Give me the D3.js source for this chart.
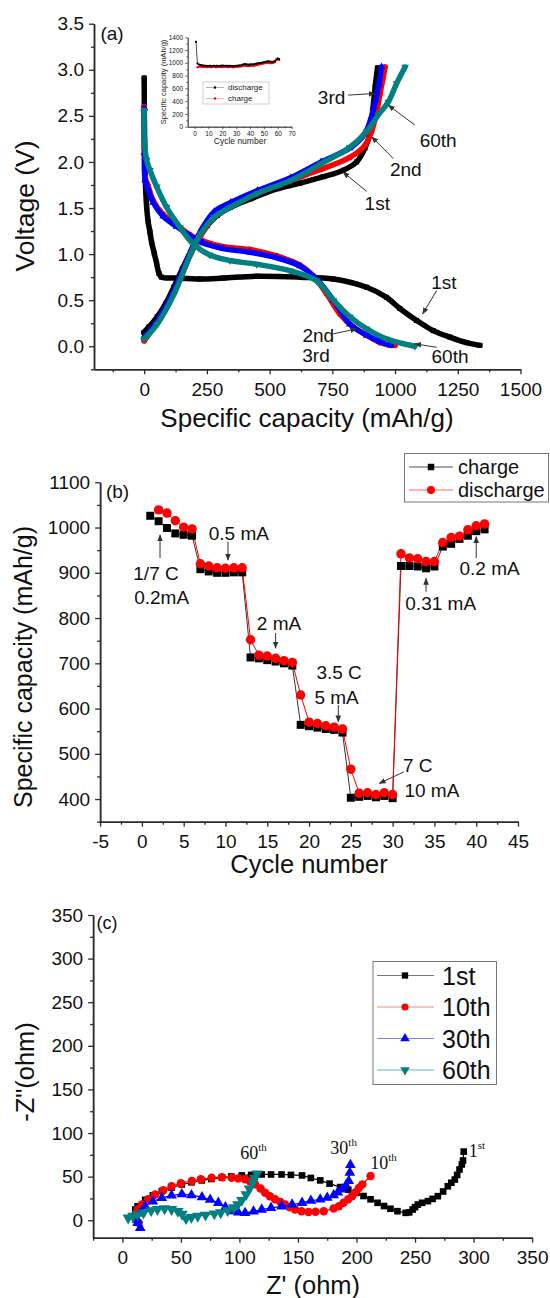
<!DOCTYPE html>
<html>
<head>
<meta charset="utf-8">
<script src="https://cdn.jsdelivr.net/npm/d3@7"></script>
<style>
  body { margin: 0; background: #fff; }
  svg { display: block; }
</style>
</head>
<body>
<div id="chart"></div>
<script>
// --------------------------------------
//  Data
// --------------------------------------

// (a) voltage profiles, [capacity (mAh/g), voltage (V)]
const dis1st = [[0,2.91],[1,2.40],[4,1.85],[9.6,1.52],[16,1.35],[23,1.24],[29.5,1.13],[40,1.01],[49.5,0.90],[59,0.79],[69,0.75],[129,0.74],[222,0.73],[315,0.74],[448,0.76],[621,0.75],[754,0.73],[887,0.64],[966,0.53],[1019,0.41],[1086,0.28],[1152,0.17],[1218,0.10],[1285,0.04],[1338,0.01]];
const dis2nd = [[0,2.60],[1,2.16],[2,1.91],[5,1.82],[16,1.74],[36,1.58],[76,1.43],[129,1.32],[182,1.21],[235,1.14],[315,1.08],[421,1.05],[528,0.98],[621,0.88],[674,0.76],[727,0.57],[780,0.35],[833,0.21],[887,0.12],[940,0.04],[1000,0.01]];
const dis3rd = [[0,2.58],[1,2.10],[4,1.80],[16,1.70],[36,1.56],[76,1.41],[129,1.30],[182,1.20],[235,1.12],[315,1.06],[421,1.02],[528,0.96],[621,0.87],[687,0.73],[754,0.50],[820,0.24],[887,0.12],[940,0.05],[983,0.01]];
const dis60th = [[0,2.56],[1,2.22],[10,2.02],[23,1.91],[50,1.73],[89,1.51],[143,1.29],[196,1.11],[262,0.99],[342,0.93],[448,0.89],[581,0.82],[687,0.71],[754,0.50],[820,0.32],[887,0.19],[966,0.08],[1079,0.0]];
const chg1st = [[-1,0.15],[19,0.21],[52,0.32],[85,0.46],[118,0.64],[152,0.84],[185,1.02],[219,1.18],[252,1.31],[292,1.42],[345,1.51],[425,1.60],[532,1.71],[621,1.77],[714,1.84],[794,1.91],[847,2.00],[880,2.15],[900,2.31],[911,2.56],[921,2.82],[930,3.02]];
const chg2nd = [[0,0.06],[52,0.26],[118,0.58],[185,1.0],[225,1.20],[279,1.40],[345,1.53],[452,1.66],[585,1.80],[705,1.92],[820,2.05],[880,2.18],[906,2.33],[926,2.53],[940,2.74],[953,2.92],[960,3.03]];
const chg3rd = [[0,0.10],[52,0.27],[118,0.60],[185,1.03],[225,1.25],[279,1.46],[345,1.56],[452,1.69],[585,1.83],[705,2.00],[820,2.15],[880,2.31],[906,2.49],[923,2.67],[936,2.85],[946,3.03]];
const chg60th = [[0,0.08],[52,0.24],[118,0.56],[185,1.0],[225,1.22],[279,1.40],[345,1.51],[452,1.66],[585,1.80],[705,1.98],[820,2.16],[887,2.33],[933,2.51],[973,2.65],[1006,2.85],[1040,3.03]];

// (a) inset, capacity per cycle (discharge from cycle 1, charge from cycle 2)
const insetDischarge = [1330,990,975,968,962,958,955,955,952,950,
  955,950,952,955,950,955,952,950,955,958,
  955,952,955,950,955,952,950,948,952,955,
  955,958,960,965,975,980,978,975,972,975,
  978,975,980,985,990,995,998,1000,1005,1010,
  1015,1020,1025,1022,1018,1015,1020,1030,1055,1070,1060];
const insetCharge = [930,935,940,938,935,932,935,930,935,932,
  930,935,938,932,930,935,932,935,930,935,
  938,935,930,932,935,930,928,932,935,938,
  940,942,945,950,955,952,950,948,950,955,
  952,955,960,965,970,975,980,985,990,995,
  1000,998,995,992,995,1000,1010,1040,1050,1045];

// (b) rate capability
const rateCycles = [1,2,3,4,5,6,7,8,9,10,11,12,13,14,15,16,17,18,19,20,21,22,23,24,25,26,27,28,29,30,31,32,33,34,35,36,37,38,39,40,41];
const rateCharge = [1026,1014,999,987,984,982,908,903,900,900,901,901,713,711,707,704,700,695,564,561,558,555,553,547,403,405,407,404,407,402,915,915,914,910,914,958,964,975,982,992,996];
const rateDischarge = [null,1039,1032,1015,1001,997,920,915,911,910,911,911,752,718,716,711,706,702,630,570,567,562,559,555,466,413,414,410,414,410,942,933,931,925,925,967,978,981,995,1004,1008];

// (c) Nyquist plots, [Z' (ohm), -Z'' (ohm)]
const eis1st = [[11,12.3],[13,16],[19.5,23.4],[26,28.5],[33.7,33.4],[42,37.5],[50.8,41],[59,43.5],[67.9,45.7],[76,47.3],[85,48.8],[93,50.2],[102,51.4],[110,52],[119,52.5],[127,52.5],[136,52.5],[144,52],[153.5,51.4],[161,48.5],[169,45.7],[177,42],[186,38],[193,35],[200,31.5],[206,27.8],[212,24],[218,20],[223.5,16.3],[229,13.2],[235,10.4],[242,8.5],[245,9],[248,12.3],[250,15],[252.4,18],[256,20],[261,21.9],[265,24.5],[269.5,27.6],[274,33],[278,39],[281,43],[284,46.7],[286,52],[288,58.2],[290,64],[291,68.5],[291.6,78.7]];
const eis10th = [[14,-3],[11,6.6],[13,12],[16.6,18],[22,24],[28,29.6],[35,34.5],[42,39],[50,42.5],[59.3,45],[67,47],[76.3,48.8],[85,49.2],[93.4,48.8],[99,48],[104.8,47],[109,44.5],[113.3,41.2],[118,36.5],[121.9,31.6],[126,27.5],[130.4,24],[135,21],[139,18],[143,15],[147.5,12.3],[153,10.4],[159,9.5],[165,9.8],[172,10.4],[180.5,13.4],[185,16],[189,20],[193,24],[196.2,27.6],[199,32],[202,37],[205,41],[212,50.7]];
const eis30th = [[15.3,-8.8],[13,-3],[12.5,0.8],[15,8],[19.5,16],[26,21.5],[33.7,25.7],[42,28.5],[50.8,30],[59,28.8],[68,26.5],[75,23.5],[82,20],[88,15],[93.4,10.4],[99,9],[104.8,8.5],[112,10.2],[119,12.3],[127,14.2],[136,16],[145,18],[153.5,20],[161,22.5],[169,23.8],[175,26],[180.5,28.8],[184,32],[187.6,35.3],[191,40],[193.4,45],[194.3,54.5],[194.8,63.4]];
const eis60th = [[5,2.7],[9,4.8],[13.2,6.6],[18,8.5],[24.6,11.2],[30,12.5],[36,13.4],[42,12.5],[47.4,10.4],[51,7],[54.4,2],[59,3.5],[64.4,4.7],[71,6],[78.6,7.4],[84,8.8],[90,11.2],[95,14.5],[98.6,18],[102,23],[105.7,29.6],[108.5,36],[111.4,43],[113,48],[115,53.4]];

// annotation texts, in data units
const notesA = [
  {t: "3rd", x: 747, y: 2.70}, {t: "60th", x: 1172, y: 2.236}, {t: "2nd", x: 1043, y: 1.917},
  {t: "1st", x: 929, y: 1.548}, {t: "1st", x: 1195, y: 0.696}, {t: "2nd", x: 694, y: 0.116},
  {t: "3rd", x: 685, y: -0.10}, {t: "60th", x: 1219, y: -0.112}
];
const arrowsA = [[813,2.725,920,2.743],[1079,2.40,973,2.616],[993,2.037,907,2.272],[887,1.68,793,1.89],
  [1166,0.605,1110,0.352],[754,0.135,847,0.189],[1166,-0.011,1079,0.026]];
const notesB = [
  {t: "1/7 C", x: 1.69, y: 899.6}, {t: "0.2mA", x: 2.36, y: 846.5}, {t: "0.5 mA", x: 11.6, y: 988},
  {t: "2 mA", x: 16.4, y: 789}, {t: "3.5 C", x: 23.6, y: 681.3}, {t: "5 mA", x: 23.3, y: 626},
  {t: "7 C", x: 33.0, y: 475}, {t: "10 mA", x: 34.7, y: 420}, {t: "0.31 mA", x: 35.75, y: 832.5},
  {t: "0.2 mA", x: 41.6, y: 910}
];
const arrowsB = [[2.17,932.7,2.17,983.6],[10.3,968.7,10.3,928],[16.0,767,16.0,733.7],[23.5,607.7,23.5,570.8],
  [31.35,460,28.4,434.7],[34.0,858,34.0,887.8],[40.0,932.7,40.0,979.8]];
const notesC = [
  {t: "60", s: "th", x: 112, y: 77.5}, {t: "30", s: "th", x: 189, y: 83.3},
  {t: "10", s: "th", x: 223, y: 66}, {t: "1", s: "st", x: 302.8, y: 79.5}
];

// --------------------------------------
//  Canvas
// --------------------------------------

const width = 550, height = 1298;
const sans = "'Liberation Sans', Arial, sans-serif";
const serif = "'Liberation Serif', 'Times New Roman', serif";
const axisColor = "#2a2a2a";
const teal = "#008080";
const intFmt = v => String(v);   // plain hyphen minus, like the original

const svg = d3.select("#chart").append("svg")
  .attr("width", width).attr("height", height)
  .attr("viewBox", `0 0 ${width} ${height}`)
  .style("font-family", sans);

svg.append("rect").attr("width", width).attr("height", height).attr("fill", "#fff");

svg.append("defs").append("marker")
    .attr("id", "arrow")
    .attr("viewBox", "0 0 10 10")
    .attr("refX", 9).attr("refY", 5)
    .attr("markerWidth", 7).attr("markerHeight", 7)
    .attr("orient", "auto-start-reverse")
  .append("path")
    .attr("d", "M0,1 L10,5 L0,9 z")
    .attr("fill", "#333");

// helpers
function ticksBetween(a, b, step) {
  const out = [];
  for (let v = a; v <= b + 1e-9; v += step) out.push(+v.toFixed(6));
  return out;
}

function drawAxes(g, x, y, o) {
  const fs = o.fontSize || 19;
  const xa = g.append("g").attr("transform", `translate(0,${y.range()[0]})`);
  xa.call(d3.axisBottom(x).tickValues(o.xMinor).tickSize(o.minor || 3).tickSizeOuter(0).tickFormat(""));
  xa.append("g").call(d3.axisBottom(x).tickValues(o.xMajor).tickSize(o.major || 5).tickSizeOuter(0)
    .tickPadding(o.pad || 8).tickFormat(o.xFmt || intFmt));
  const ya = g.append("g").attr("transform", `translate(${x.range()[0]},0)`);
  ya.call(d3.axisLeft(y).tickValues(o.yMinor).tickSize(o.minor || 3).tickSizeOuter(0).tickFormat(""));
  ya.append("g").call(d3.axisLeft(y).tickValues(o.yMajor).tickSize(o.major || 5).tickSizeOuter(0)
    .tickPadding(o.padY || 5).tickFormat(o.yFmt || intFmt));
  g.selectAll(".domain").attr("stroke", axisColor).attr("stroke-width", o.lw || 1.5);
  g.selectAll(".tick line").attr("stroke", axisColor).attr("stroke-width", o.lw || 1.3);
  g.selectAll(".tick text").attr("font-family", sans).attr("font-size", fs).attr("fill", "#111");
}

function marks(g, data, x, y, shape, size, color) {
  const type = shape === "square" ? d3.symbolSquare : shape === "circle" ? d3.symbolCircle : d3.symbolTriangle;
  g.append("g").selectAll("path").data(data.filter(d => d[1] != null)).join("path")
    .attr("d", d3.symbol(type, size))
    .attr("transform", d => `translate(${x(d[0])},${y(d[1])})${shape === "down" ? " rotate(180)" : ""}`)
    .attr("fill", color);
}

function arrows(g, list, x, y) {
  g.append("g").selectAll("line").data(list).join("line")
    .attr("x1", d => x(d[0])).attr("y1", d => y(d[1]))
    .attr("x2", d => x(d[2])).attr("y2", d => y(d[3]))
    .attr("stroke", "#333").attr("stroke-width", 1)
    .attr("marker-end", "url(#arrow)");
}

function notes(g, list, x, y, size) {
  g.append("g").selectAll("text").data(list).join("text")
    .attr("x", d => x(d.x)).attr("y", d => y(d.y))
    .attr("dy", "0.36em")
    .attr("text-anchor", "middle")
    .attr("font-size", size)
    .attr("fill", "#111")
    .text(d => d.t);
}

// --------------------------------------
//  (a) Voltage profiles
// --------------------------------------

const xA = d3.scaleLinear().domain([-200, 1500]).range([94, 520.5]);
const yA = d3.scaleLinear().domain([-0.25, 3.5]).range([369.3, 23.7]);
const gA = svg.append("g");

drawAxes(gA, xA, yA, {
  xMajor: ticksBetween(0, 1500, 250), xMinor: ticksBetween(-125, 1375, 250),
  yMajor: ticksBetween(0, 3.5, 0.5), yMinor: ticksBetween(-0.25, 3.25, 0.5),
  yFmt: d3.format(".1f")
});

const lineA = d3.line().x(d => xA(d[0])).y(d => yA(d[1])).curve(d3.curveCatmullRom.alpha(0.5));
const profiles = [
  {d: dis1st, c: "#000", s: "square"}, {d: chg1st, c: "#000", s: "square"},
  {d: dis2nd, c: "#ff0000", s: "circle"}, {d: chg2nd, c: "#ff0000", s: "circle"},
  {d: dis3rd, c: "#0000ff", s: "up"}, {d: chg3rd, c: "#0000ff", s: "up"},
  {d: dis60th, c: teal, s: "down"}, {d: chg60th, c: teal, s: "down"}
];
profiles.forEach(p => {
  gA.append("path").datum(p.d)
    .attr("d", lineA).attr("fill", "none")
    .attr("stroke", p.c).attr("stroke-width", 5.5)
    .attr("stroke-linecap", "round");
  marks(gA, p.d, xA, yA, p.s, 26, p.c);
});

notes(gA, notesA, xA, yA, 19);
arrows(gA, arrowsA, xA, yA);

gA.append("text").attr("x", 112).attr("y", 40).attr("text-anchor", "middle")
  .attr("font-size", 19).attr("fill", "#111").text("(a)");
gA.append("text").attr("x", 307).attr("y", 427).attr("text-anchor", "middle")
  .attr("font-size", 26).attr("fill", "#111").text("Specific capacity (mAh/g)");
gA.append("text").attr("transform", "translate(34,206) rotate(-90)").attr("text-anchor", "middle")
  .attr("font-size", 26.5).attr("fill", "#111").text("Voltage (V)");

// inset
const xI = d3.scaleLinear().domain([-5, 70]).range([187.7, 291.6]);
const yI = d3.scaleLinear().domain([0, 1400]).range([126.7, 37.3]);
const gI = svg.append("g");
drawAxes(gI, xI, yI, {
  xMajor: ticksBetween(0, 70, 10), xMinor: ticksBetween(5, 65, 10),
  yMajor: ticksBetween(0, 1400, 200), yMinor: ticksBetween(100, 1300, 200),
  fontSize: 6.5, major: 2.5, minor: 1.5, pad: 2, padY: 2, lw: 0.7
});
const lineI = d3.line().x(d => xI(d[0])).y(d => yI(d[1]));
const insetD = insetDischarge.map((v, i) => [i + 1, v]);
const insetC = insetCharge.map((v, i) => [i + 2, v]);
gI.append("path").datum(insetD).attr("d", lineI).attr("fill", "none").attr("stroke", "#000").attr("stroke-width", 0.7);
gI.append("path").datum(insetC).attr("d", lineI).attr("fill", "none").attr("stroke", "#ff0000").attr("stroke-width", 0.7);
marks(gI, insetC, xI, yI, "circle", 4, "#ff0000");
marks(gI, insetD, xI, yI, "square", 3.5, "#000");

gI.append("text").attr("x", 240).attr("y", 144).attr("text-anchor", "middle")
  .attr("font-size", 8.5).attr("fill", "#222").text("Cycle number");
gI.append("text").attr("transform", "translate(166,82) rotate(-90)").attr("text-anchor", "middle")
  .attr("font-size", 7.5).attr("fill", "#222").text("Specific capacity (mAh/g)");

const legI = gI.append("g");
legI.append("rect").attr("x", 203).attr("y", 82).attr("width", 66).attr("height", 22)
  .attr("fill", "#fff").attr("stroke", "#bbb").attr("stroke-width", 0.7);
[{t: "discharge", c: "#000", s: "square", y: 87.5}, {t: "charge", c: "#ff0000", s: "circle", y: 98.5}].forEach(e => {
  legI.append("line").attr("x1", 206).attr("x2", 224).attr("y1", e.y).attr("y2", e.y)
    .attr("stroke", e.c).attr("stroke-width", 0.6).attr("opacity", 0.5);
  legI.append("path").attr("d", d3.symbol(e.s === "square" ? d3.symbolSquare : d3.symbolCircle, 5)())
    .attr("transform", `translate(215,${e.y})`).attr("fill", e.c);
  legI.append("text").attr("x", 228).attr("y", e.y).attr("dy", "0.35em")
    .attr("font-size", 8).attr("fill", "#222").text(e.t);
});

// --------------------------------------
//  (b) Rate capability
// --------------------------------------

const xB = d3.scaleLinear().domain([-5, 45]).range([100.1, 518]);
const yB = d3.scaleLinear().domain([350, 1100]).range([821.7, 482.3]);
const gB = svg.append("g");

drawAxes(gB, xB, yB, {
  xMajor: ticksBetween(-5, 45, 5), xMinor: ticksBetween(-2.5, 42.5, 5),
  yMajor: ticksBetween(400, 1100, 100), yMinor: ticksBetween(350, 1050, 100)
});

const chargeB = rateCycles.map((c, i) => [c, rateCharge[i]]);
const dischargeB = rateCycles.map((c, i) => [c, rateDischarge[i]]).filter(d => d[1] != null);
const lineB = d3.line().x(d => xB(d[0])).y(d => yB(d[1]));
gB.append("path").datum(chargeB).attr("d", lineB).attr("fill", "none").attr("stroke", "#333").attr("stroke-width", 1);
gB.append("path").datum(dischargeB).attr("d", lineB).attr("fill", "none").attr("stroke", "#ff0000").attr("stroke-width", 1);
marks(gB, chargeB, xB, yB, "square", 64, "#000");
marks(gB, dischargeB, xB, yB, "circle", 70, "#ff0000");

notes(gB, notesB, xB, yB, 19);
arrows(gB, arrowsB, xB, yB);

gB.append("text").attr("x", 117.5).attr("y", 498).attr("text-anchor", "middle")
  .attr("font-size", 19).attr("fill", "#111").text("(b)");
gB.append("text").attr("x", 309).attr("y", 873).attr("text-anchor", "middle")
  .attr("font-size", 25.5).attr("fill", "#111").text("Cycle number");
gB.append("text").attr("transform", "translate(32,667) rotate(-90)").attr("text-anchor", "middle")
  .attr("font-size", 25).attr("fill", "#111").text("Specific capacity (mAh/g)");

const legB = gB.append("g");
legB.append("rect").attr("x", 404.5).attr("y", 453.5).attr("width", 144).attr("height", 48.5)
  .attr("fill", "#fff").attr("stroke", "#777").attr("stroke-width", 1);
[{t: "charge", c: "#000", l: "#555", s: "square", y: 467}, {t: "discharge", c: "#ff0000", l: "#ff6666", s: "circle", y: 490}].forEach(e => {
  legB.append("line").attr("x1", 409).attr("x2", 453).attr("y1", e.y).attr("y2", e.y)
    .attr("stroke", e.l).attr("stroke-width", 1);
  legB.append("path").attr("d", d3.symbol(e.s === "square" ? d3.symbolSquare : d3.symbolCircle, e.s === "square" ? 42 : 50)())
    .attr("transform", `translate(431,${e.y})`).attr("fill", e.c);
  legB.append("text").attr("x", 458).attr("y", e.y).attr("dy", "0.35em")
    .attr("font-size", 20).attr("fill", "#111").text(e.t);
});

// --------------------------------------
//  (c) Impedance
// --------------------------------------

const xC = d3.scaleLinear().domain([-25, 350]).range([93.1, 532.1]);
const yC = d3.scaleLinear().domain([-20, 350]).range([1237.7, 915]);
const gC = svg.append("g");

drawAxes(gC, xC, yC, {
  xMajor: ticksBetween(0, 350, 50), xMinor: ticksBetween(-25, 325, 50),
  yMajor: ticksBetween(0, 350, 50), yMinor: ticksBetween(25, 325, 50)
});

const lineC = d3.line().x(d => xC(d[0])).y(d => yC(d[1]));
const spectra = [
  {d: eis1st, c: "#000", s: "square", z: 44},
  {d: eis10th, c: "#ff0000", s: "circle", z: 56},
  {d: eis30th, c: "#0000ff", s: "up", z: 50},
  {d: eis60th, c: teal, s: "down", z: 56}
];
spectra.forEach(p => {
  gC.append("path").datum(p.d).attr("d", lineC).attr("fill", "none")
    .attr("stroke", p.c).attr("stroke-width", 1.2);
  marks(gC, p.d, xC, yC, p.s, p.z, p.c);
});

const nC = gC.append("g").selectAll("text").data(notesC).join("text")
  .attr("x", d => xC(d.x)).attr("y", d => yC(d.y)).attr("dy", "0.36em")
  .attr("text-anchor", "middle").attr("font-family", serif).attr("font-size", 18).attr("fill", "#111");
nC.append("tspan").text(d => d.t);
nC.append("tspan").attr("font-size", 11).attr("dy", "-0.75em").text(d => d.s);

gC.append("text").attr("x", 107).attr("y", 929).attr("text-anchor", "middle")
  .attr("font-size", 18).attr("fill", "#111").text("(c)");
gC.append("text").attr("x", 313).attr("y", 1294).attr("text-anchor", "middle")
  .attr("font-size", 25.5).attr("fill", "#111").text("Z' (ohm)");
gC.append("text").attr("transform", "translate(34,1072) rotate(-90)").attr("text-anchor", "middle")
  .attr("font-size", 25.5).attr("fill", "#111").text("-Z\"(ohm)");

const legC = gC.append("g");
legC.append("rect").attr("x", 373).attr("y", 961.5).attr("width", 123.5).attr("height", 123)
  .attr("fill", "#fff").attr("stroke", "#777").attr("stroke-width", 1);
const legCEntries = [
  {t: "1st", c: "#000", l: "#777", s: "square", y: 975.5},
  {t: "10th", c: "#ff0000", l: "#ff8080", s: "circle", y: 1007},
  {t: "30th", c: "#0000ff", l: "#8080ff", s: "up", y: 1038.5},
  {t: "60th", c: teal, l: "#66b3b3", s: "down", y: 1070}
];
legCEntries.forEach(e => {
  legC.append("line").attr("x1", 377).attr("x2", 434).attr("y1", e.y).attr("y2", e.y)
    .attr("stroke", e.l).attr("stroke-width", 1);
  const type = e.s === "square" ? d3.symbolSquare : e.s === "circle" ? d3.symbolCircle : d3.symbolTriangle;
  legC.append("path").attr("d", d3.symbol(type, 40)())
    .attr("transform", `translate(405,${e.y})${e.s === "down" ? " rotate(180)" : ""}`).attr("fill", e.c);
  legC.append("text").attr("x", 442).attr("y", e.y).attr("dy", "0.36em")
    .attr("font-size", 25).attr("fill", "#111").text(e.t);
});
</script>
</body>
</html>
